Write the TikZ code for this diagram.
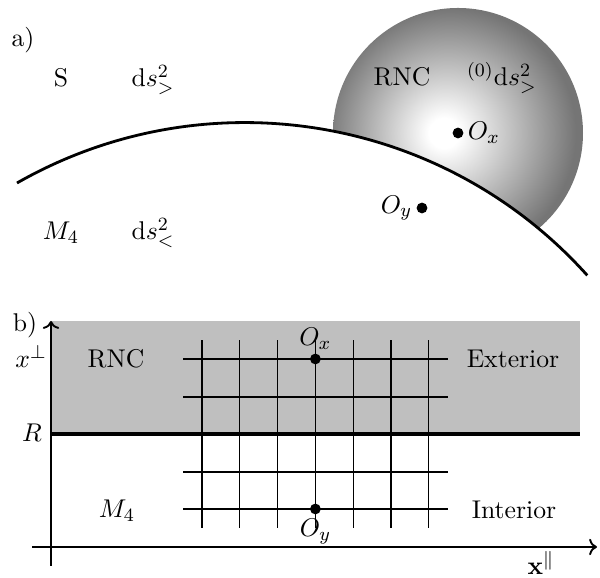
\documentclass[tikz,border=0pt]{standalone}
\usepackage{amsmath}
\usepackage{amssymb}
\usepackage{tikz}
\usetikzlibrary{arrows.meta,positioning,calc}
\pgfdeclareradialshading{rncball}{\pgfpoint{-3bp}{0bp}}{color(0bp)=(white); color(3bp)=(white); color(25bp)=(gray!92!black); color(50bp)=(gray!92!black)}

\begin{document}
\begin{tikzpicture}[x=0.015cm,y=0.015cm,font=\fontsize{10.95}{13.6}\selectfont,
  dot/.style={circle,fill=black,inner sep=0pt,minimum size=4.6pt},
  lab/.style={anchor=base,inner sep=0pt},
  olab/.style={inner sep=1.5pt},
  gridline/.style={line width=0.5pt}]
  \useasboundingbox (0,0) rectangle (600,578);
  % a) RNC ball above the boundary
  \begin{scope}
    \clip (17,395) arc[start angle=119.7,end angle=41.9,radius=460]
      -- (600,303) -- (600,578) -- (0,578) -- (0,395) -- cycle;
    \shade[shading=rncball] (458,445) circle[radius=125];
  \end{scope}
  % boundary
  \draw[very thick] (17,395) arc[start angle=119.7,end angle=41.9,radius=460];
  % labels a)
  \node[lab] (pa) at (23,531) {a)};
  \node[lab] (S) at (61,491) {S};
  \node[lab] (dsout) at (153,491) {$\mathrm{d}s^2_>$};
  \node[lab] (M4a) at (61,338) {$M_4$};
  \node[lab] (dsin) at (153,338) {$\mathrm{d}s^2_<$};
  \node[lab] (rnca) at (402,492) {RNC};
  \node[lab] (dszero) at (502,492) {${}^{(0)}\mathrm{d}s^2_>$};
  \node[dot] (Oxa) at (458,445) {};
  \node[olab,right=0pt of Oxa] (Oxalab) {$O_x$};
  \node[dot] (Oya) at (422,370) {};
  \node[olab,left=0pt of Oya] (Oyalab) {$O_y$};

  % b) exterior strip
  \fill[gray!50] (51,144) rectangle (580,257);
  % grid
  \foreach \x in {0,...,6}
    \draw[gridline] ({202+37.8*\x},50) -- ({202+37.8*\x},238);
  \foreach \y in {69,106,181,219}
    \draw[gridline] (183,\y) -- (448,\y);
  % boundary R
  \draw[ultra thick] (51,144) -- (580,144);
  % axes
  \coordinate (vbot) at (51,12);
  \coordinate (vtop) at (51,257);
  \coordinate (hleft) at (32,31);
  \coordinate (hright) at (597,31);
  \draw[thick,->] (vbot) -- (vtop);
  \draw[thick,->] (hleft) -- (hright);
  % points
  \node[dot] (Oxb) at (315.4,219) {};
  \node[dot] (Oyb) at (315.4,69) {};
  \node[olab,above=0pt of Oxb] (Oxblab) {$O_x$};
  \node[olab,below=0pt of Oyb] (Oyblab) {$O_y$};
  % labels b)
  \node[lab] (pb) at (25,246) {b)};
  \node[lab] (xperp) at (31,210) {$x^{\perp}$};
  \node[lab] (R) at (32,136) {$R$};
  \node[lab] (rncb) at (116,210) {RNC};
  \node[lab] (M4b) at (117,60) {$M_4$};
  \node[lab] (ext) at (513,210) {Exterior};
  \node[lab] (int) at (514,59) {Interior};
  \node[lab] (xpar) at (541,3) {$\mathbf{x}^{\parallel}$};
\end{tikzpicture}
\end{document}
